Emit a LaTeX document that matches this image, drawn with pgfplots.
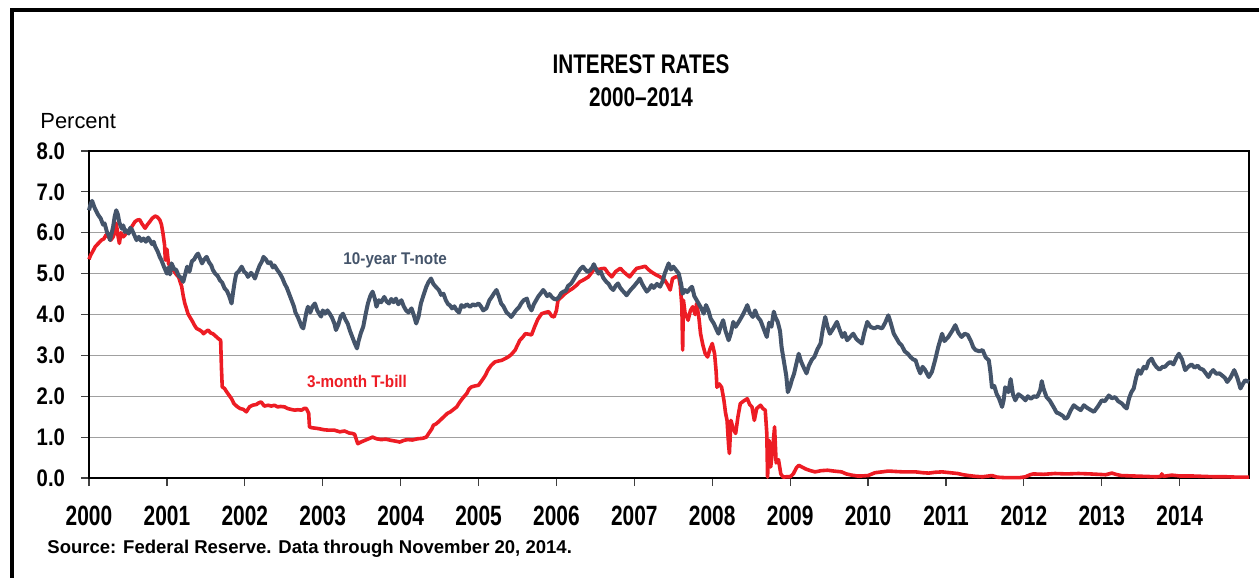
\documentclass[border=0pt]{standalone}
\usepackage{fontspec}
\setmainfont{Liberation Sans}
\newfontfamily\narrowfont[FakeStretch=0.77]{Liberation Sans}
\newfontfamily\xtickfont[FakeStretch=0.75]{Liberation Sans}
\newfontfamily\ytickfont[FakeStretch=0.85]{Liberation Sans}
\newfontfamily\labelfont[FakeStretch=0.9]{Liberation Sans}
\usepackage{pgfplots}
\pgfplotsset{compat=1.18}
\definecolor{notecol}{RGB}{68,84,106}
\definecolor{billcol}{RGB}{237,28,36}
\definecolor{gridcol}{RGB}{160,160,160}

% 10-year T-note, percent
\pgfplotstableread{
t v
2000.00 6.55
2000.02 6.70
2000.04 6.78
2000.07 6.62
2000.10 6.50
2000.12 6.43
2000.15 6.35
2000.18 6.20
2000.20 6.23
2000.23 6.02
2000.25 5.95
2000.27 5.82
2000.29 5.98
2000.31 6.15
2000.33 6.40
2000.35 6.55
2000.37 6.45
2000.39 6.25
2000.42 6.10
2000.44 6.18
2000.46 6.02
2000.48 6.06
2000.51 5.98
2000.53 6.12
2000.55 6.08
2000.58 5.95
2000.61 5.82
2000.64 5.90
2000.67 5.80
2000.70 5.86
2000.73 5.78
2000.76 5.88
2000.78 5.82
2000.81 5.72
2000.83 5.78
2000.85 5.66
2000.88 5.55
2000.91 5.40
2000.93 5.33
2000.96 5.18
2001.00 5.00
2001.02 5.15
2001.04 4.98
2001.06 5.25
2001.09 5.12
2001.12 5.09
2001.15 4.95
2001.18 4.90
2001.21 4.80
2001.23 4.95
2001.26 5.17
2001.29 5.05
2001.32 5.30
2001.35 5.35
2001.38 5.45
2001.40 5.49
2001.43 5.35
2001.45 5.25
2001.48 5.35
2001.51 5.41
2001.54 5.28
2001.57 5.20
2001.59 5.09
2001.62 5.00
2001.65 4.95
2001.68 4.84
2001.71 4.78
2001.74 4.64
2001.77 4.58
2001.80 4.45
2001.83 4.27
2001.85 4.55
2001.87 4.80
2001.89 5.00
2001.92 5.05
2001.96 5.17
2001.99 5.05
2002.02 5.00
2002.04 4.92
2002.08 5.02
2002.11 4.95
2002.13 4.88
2002.16 5.05
2002.19 5.20
2002.22 5.30
2002.24 5.41
2002.27 5.35
2002.30 5.25
2002.33 5.28
2002.36 5.15
2002.38 5.20
2002.42 5.08
2002.45 5.00
2002.48 4.90
2002.51 4.76
2002.54 4.65
2002.57 4.50
2002.60 4.35
2002.63 4.20
2002.65 4.05
2002.68 3.94
2002.71 3.80
2002.73 3.70
2002.75 3.66
2002.77 3.85
2002.79 4.05
2002.81 4.19
2002.84 4.05
2002.87 4.20
2002.90 4.27
2002.93 4.10
2002.96 4.00
2002.98 3.95
2003.00 4.10
2003.03 4.02
2003.06 4.10
2003.09 4.02
2003.12 3.92
2003.15 3.78
2003.17 3.62
2003.20 3.75
2003.23 3.95
2003.26 4.02
2003.29 3.88
2003.32 3.78
2003.35 3.60
2003.38 3.45
2003.41 3.30
2003.44 3.17
2003.46 3.35
2003.49 3.55
2003.52 3.70
2003.55 4.00
2003.58 4.27
2003.61 4.45
2003.64 4.56
2003.67 4.38
2003.69 4.19
2003.72 4.35
2003.75 4.30
2003.79 4.43
2003.82 4.32
2003.85 4.27
2003.88 4.38
2003.91 4.30
2003.94 4.39
2003.97 4.25
2004.01 4.35
2004.04 4.20
2004.07 4.10
2004.10 4.05
2004.14 4.15
2004.17 3.98
2004.20 3.78
2004.23 3.95
2004.26 4.27
2004.29 4.45
2004.33 4.68
2004.36 4.80
2004.39 4.88
2004.42 4.75
2004.45 4.68
2004.49 4.60
2004.52 4.48
2004.55 4.51
2004.58 4.35
2004.61 4.25
2004.63 4.23
2004.66 4.15
2004.69 4.20
2004.72 4.10
2004.75 4.05
2004.78 4.23
2004.81 4.18
2004.85 4.25
2004.89 4.19
2004.93 4.25
2004.96 4.22
2005.00 4.27
2005.03 4.20
2005.06 4.10
2005.10 4.15
2005.14 4.35
2005.17 4.43
2005.20 4.52
2005.23 4.60
2005.26 4.45
2005.29 4.27
2005.32 4.20
2005.36 4.05
2005.39 4.00
2005.42 3.94
2005.45 4.02
2005.48 4.10
2005.52 4.18
2005.55 4.28
2005.58 4.35
2005.62 4.39
2005.65 4.20
2005.68 4.10
2005.71 4.25
2005.74 4.35
2005.77 4.45
2005.80 4.52
2005.83 4.60
2005.85 4.55
2005.88 4.45
2005.91 4.50
2005.94 4.43
2005.97 4.38
2006.00 4.37
2006.03 4.42
2006.06 4.52
2006.09 4.56
2006.12 4.58
2006.15 4.70
2006.19 4.76
2006.22 4.85
2006.25 4.95
2006.28 5.04
2006.31 5.12
2006.34 5.17
2006.37 5.10
2006.40 5.04
2006.43 5.08
2006.46 5.15
2006.48 5.23
2006.51 5.10
2006.54 5.00
2006.57 5.05
2006.60 4.90
2006.64 4.80
2006.67 4.75
2006.70 4.65
2006.73 4.60
2006.76 4.70
2006.79 4.76
2006.82 4.65
2006.85 4.58
2006.88 4.52
2006.90 4.47
2006.93 4.55
2006.96 4.62
2006.99 4.68
2007.02 4.75
2007.05 4.82
2007.07 4.88
2007.10 4.75
2007.13 4.65
2007.16 4.56
2007.19 4.62
2007.22 4.72
2007.25 4.65
2007.29 4.75
2007.33 4.68
2007.36 4.80
2007.39 5.00
2007.42 5.15
2007.44 5.25
2007.47 5.10
2007.50 5.17
2007.53 5.10
2007.57 5.00
2007.60 4.75
2007.62 4.51
2007.65 4.60
2007.68 4.55
2007.71 4.62
2007.74 4.68
2007.77 4.45
2007.80 4.35
2007.83 4.25
2007.86 4.15
2007.89 4.02
2007.92 4.23
2007.95 4.10
2007.98 3.90
2008.02 3.78
2008.05 3.65
2008.08 3.53
2008.11 3.72
2008.14 3.86
2008.17 3.60
2008.21 3.37
2008.24 3.55
2008.27 3.82
2008.30 3.70
2008.34 3.82
2008.38 3.95
2008.42 4.10
2008.45 4.23
2008.48 4.05
2008.52 3.94
2008.55 4.10
2008.58 3.95
2008.62 3.85
2008.66 3.65
2008.70 3.45
2008.73 3.80
2008.76 3.70
2008.79 4.07
2008.81 3.94
2008.84 3.82
2008.87 3.60
2008.89 3.20
2008.92 2.85
2008.95 2.50
2008.97 2.10
2009.00 2.25
2009.02 2.39
2009.05 2.55
2009.08 2.80
2009.11 3.04
2009.14 2.85
2009.17 2.72
2009.21 2.56
2009.24 2.75
2009.28 2.90
2009.31 2.96
2009.35 3.15
2009.39 3.29
2009.42 3.65
2009.45 3.94
2009.48 3.70
2009.51 3.53
2009.55 3.65
2009.60 3.82
2009.64 3.60
2009.67 3.45
2009.70 3.55
2009.73 3.37
2009.77 3.45
2009.81 3.53
2009.85 3.40
2009.88 3.35
2009.92 3.29
2009.95 3.55
2009.99 3.82
2010.03 3.70
2010.08 3.66
2010.12 3.70
2010.18 3.66
2010.22 3.80
2010.26 3.98
2010.29 3.80
2010.33 3.53
2010.37 3.40
2010.40 3.30
2010.43 3.25
2010.47 3.10
2010.51 3.04
2010.55 2.95
2010.58 2.90
2010.61 2.88
2010.64 2.70
2010.67 2.56
2010.70 2.72
2010.73 2.65
2010.78 2.47
2010.82 2.60
2010.86 2.88
2010.90 3.20
2010.95 3.53
2010.98 3.35
2011.03 3.45
2011.08 3.60
2011.12 3.74
2011.16 3.55
2011.20 3.45
2011.24 3.53
2011.28 3.50
2011.32 3.35
2011.35 3.20
2011.38 3.13
2011.43 3.10
2011.47 3.13
2011.51 2.95
2011.55 2.88
2011.57 2.60
2011.59 2.22
2011.62 2.25
2011.65 2.06
2011.68 1.95
2011.72 1.74
2011.74 1.90
2011.76 2.22
2011.80 2.10
2011.83 2.42
2011.86 2.05
2011.89 1.90
2011.93 2.05
2011.98 1.98
2012.02 1.90
2012.05 2.00
2012.09 1.94
2012.13 2.00
2012.17 1.98
2012.21 2.15
2012.23 2.37
2012.25 2.20
2012.29 1.98
2012.33 1.90
2012.38 1.74
2012.42 1.60
2012.45 1.58
2012.50 1.52
2012.53 1.45
2012.56 1.48
2012.60 1.65
2012.64 1.78
2012.68 1.72
2012.73 1.66
2012.77 1.78
2012.81 1.72
2012.86 1.66
2012.90 1.62
2012.95 1.75
2013.00 1.90
2013.04 1.88
2013.09 2.02
2013.13 1.95
2013.17 1.98
2013.21 1.88
2013.26 1.82
2013.29 1.75
2013.32 1.70
2013.35 1.95
2013.38 2.10
2013.41 2.19
2013.44 2.45
2013.47 2.64
2013.50 2.55
2013.54 2.72
2013.57 2.68
2013.60 2.85
2013.64 2.92
2013.67 2.80
2013.70 2.72
2013.74 2.65
2013.78 2.72
2013.81 2.72
2013.85 2.80
2013.88 2.84
2013.92 2.78
2013.96 2.95
2013.99 3.04
2014.03 2.90
2014.07 2.64
2014.11 2.72
2014.15 2.78
2014.19 2.70
2014.23 2.75
2014.26 2.68
2014.30 2.65
2014.34 2.55
2014.37 2.47
2014.40 2.58
2014.43 2.64
2014.47 2.55
2014.51 2.56
2014.55 2.50
2014.58 2.45
2014.61 2.35
2014.65 2.45
2014.70 2.64
2014.74 2.45
2014.78 2.19
2014.81 2.30
2014.84 2.39
2014.89 2.35
}\notetable

% 3-month T-bill, percent
\pgfplotstableread{
t v
2000.00 5.35
2000.02 5.45
2000.05 5.55
2000.08 5.66
2000.11 5.72
2000.14 5.78
2000.16 5.82
2000.19 5.85
2000.22 5.95
2000.25 5.90
2000.28 5.82
2000.31 5.90
2000.33 6.00
2000.35 6.23
2000.37 5.95
2000.39 5.74
2000.41 6.00
2000.44 5.90
2000.46 5.94
2000.49 6.02
2000.52 6.06
2000.55 6.15
2000.59 6.27
2000.62 6.31
2000.65 6.32
2000.68 6.22
2000.72 6.11
2000.75 6.20
2000.78 6.27
2000.81 6.35
2000.85 6.41
2000.88 6.38
2000.91 6.31
2000.93 6.20
2000.95 5.98
2000.97 5.70
2000.98 5.33
2001.00 5.60
2001.02 5.25
2001.05 5.15
2001.08 5.09
2001.12 4.98
2001.15 4.92
2001.19 4.68
2001.21 4.45
2001.23 4.27
2001.25 4.15
2001.27 4.02
2001.30 3.92
2001.32 3.86
2001.35 3.75
2001.38 3.66
2001.42 3.62
2001.45 3.58
2001.47 3.53
2001.50 3.58
2001.53 3.62
2001.56 3.55
2001.59 3.53
2001.62 3.48
2001.66 3.41
2001.69 3.37
2001.70 2.70
2001.71 2.23
2001.74 2.19
2001.77 2.10
2001.80 2.02
2001.83 1.94
2001.86 1.82
2001.90 1.75
2001.94 1.70
2001.98 1.68
2002.02 1.62
2002.06 1.74
2002.10 1.78
2002.15 1.80
2002.18 1.84
2002.21 1.86
2002.25 1.76
2002.30 1.78
2002.34 1.76
2002.38 1.78
2002.42 1.74
2002.46 1.75
2002.51 1.74
2002.55 1.70
2002.59 1.68
2002.64 1.66
2002.68 1.67
2002.73 1.66
2002.76 1.70
2002.79 1.70
2002.82 1.58
2002.83 1.25
2002.86 1.23
2002.90 1.22
2002.94 1.21
2003.02 1.18
2003.08 1.17
2003.15 1.17
2003.22 1.13
2003.28 1.15
2003.34 1.10
2003.38 1.09
2003.41 1.07
2003.43 0.95
2003.45 0.84
2003.49 0.88
2003.54 0.92
2003.59 0.96
2003.64 1.00
2003.69 0.96
2003.75 0.94
2003.81 0.95
2003.88 0.92
2003.94 0.90
2003.99 0.88
2004.04 0.92
2004.09 0.94
2004.15 0.93
2004.22 0.96
2004.28 0.97
2004.33 1.00
2004.36 1.09
2004.40 1.20
2004.42 1.29
2004.46 1.33
2004.50 1.40
2004.55 1.49
2004.60 1.58
2004.64 1.62
2004.68 1.68
2004.72 1.74
2004.76 1.86
2004.80 1.96
2004.85 2.07
2004.88 2.18
2004.91 2.23
2004.95 2.25
2005.00 2.27
2005.03 2.35
2005.06 2.43
2005.09 2.52
2005.12 2.64
2005.16 2.75
2005.21 2.84
2005.25 2.86
2005.30 2.88
2005.34 2.92
2005.38 2.96
2005.42 3.02
2005.47 3.13
2005.50 3.25
2005.53 3.37
2005.57 3.45
2005.60 3.53
2005.64 3.52
2005.68 3.50
2005.72 3.70
2005.76 3.88
2005.81 4.02
2005.86 4.05
2005.90 4.07
2005.94 3.96
2005.97 3.94
2006.00 4.10
2006.02 4.35
2006.06 4.42
2006.11 4.51
2006.16 4.58
2006.21 4.64
2006.26 4.72
2006.30 4.80
2006.35 4.85
2006.41 4.92
2006.45 5.02
2006.49 5.13
2006.54 5.10
2006.58 5.12
2006.62 5.13
2006.66 5.02
2006.71 4.92
2006.76 5.05
2006.82 5.13
2006.86 5.05
2006.90 4.98
2006.94 4.92
2006.98 5.02
2007.03 5.13
2007.08 5.15
2007.14 5.18
2007.18 5.10
2007.22 5.04
2007.27 4.98
2007.33 4.92
2007.36 4.88
2007.39 4.84
2007.42 4.75
2007.46 4.60
2007.49 4.88
2007.53 4.92
2007.57 4.92
2007.59 4.70
2007.61 4.20
2007.62 3.13
2007.63 4.35
2007.65 4.05
2007.69 3.86
2007.72 4.10
2007.75 4.19
2007.78 4.00
2007.80 4.27
2007.83 3.90
2007.85 3.53
2007.88 3.25
2007.91 3.04
2007.94 2.96
2007.97 3.15
2008.00 3.29
2008.03 3.04
2008.05 2.60
2008.06 2.22
2008.09 2.30
2008.12 2.22
2008.15 1.90
2008.17 1.60
2008.19 1.41
2008.21 0.80
2008.22 0.60
2008.24 1.41
2008.27 1.20
2008.30 1.09
2008.33 1.50
2008.36 1.82
2008.40 1.88
2008.45 1.94
2008.48 1.80
2008.51 1.74
2008.54 1.41
2008.57 1.70
2008.62 1.78
2008.65 1.70
2008.68 1.66
2008.70 1.10
2008.71 0.02
2008.73 0.92
2008.75 0.27
2008.77 0.60
2008.80 1.25
2008.82 0.37
2008.85 0.45
2008.88 0.10
2008.91 0.02
2008.95 0.03
2009.00 0.03
2009.04 0.10
2009.08 0.25
2009.11 0.31
2009.15 0.27
2009.20 0.22
2009.26 0.18
2009.32 0.15
2009.40 0.18
2009.48 0.19
2009.56 0.17
2009.66 0.15
2009.72 0.10
2009.79 0.07
2009.86 0.05
2009.92 0.05
2010.00 0.06
2010.09 0.13
2010.18 0.15
2010.26 0.17
2010.35 0.16
2010.45 0.15
2010.55 0.15
2010.61 0.15
2010.70 0.13
2010.78 0.12
2010.86 0.14
2010.95 0.15
2011.05 0.13
2011.15 0.11
2011.22 0.08
2011.29 0.06
2011.38 0.04
2011.47 0.03
2011.55 0.05
2011.59 0.06
2011.66 0.02
2011.75 0.01
2011.85 0.01
2011.95 0.01
2012.02 0.03
2012.08 0.08
2012.12 0.10
2012.25 0.09
2012.40 0.11
2012.55 0.10
2012.70 0.11
2012.85 0.10
2012.95 0.09
2013.05 0.08
2013.13 0.12
2013.18 0.09
2013.25 0.06
2013.40 0.05
2013.55 0.04
2013.70 0.03
2013.76 0.04
2013.77 0.10
2013.79 0.04
2013.90 0.07
2014.00 0.05
2014.15 0.05
2014.30 0.04
2014.45 0.03
2014.60 0.03
2014.75 0.02
2014.89 0.02
}\billtable

\begin{document}
\begin{tikzpicture}[x=1bp,y=1bp]
\path[use as bounding box] (0,0) rectangle (629.5,288.5);
% outer frame (only left and top edges are in view)
\draw[line width=2bp] (6,-5) -- (6,283.5) -- (640,283.5);
\node[anchor=base, inner sep=0pt, font=\narrowfont\bfseries\fontsize{13.5}{15}\selectfont] at (320.5,251.8) {INTEREST RATES};
\node[anchor=base, inner sep=0pt, font=\narrowfont\bfseries\fontsize{13.5}{15}\selectfont] at (320.5,235.3) {2000–2014};
\node[anchor=base west, inner sep=0pt, font=\fontsize{11}{13}\selectfont] at (20,224.5) {Percent};
\node[anchor=west, inner sep=0pt, font=\bfseries\fontsize{9.3}{11}\selectfont] at (23.5,14) {Source: Federal Reserve. Data through November 20, 2014.};

\begin{axis}[
  at={(44.5bp,49.5bp)}, anchor=south west,
  width=580bp, height=163.5bp, scale only axis,
  xmin=2000, xmax=2014.89, ymin=0, ymax=8,
  xtick={2000,2001,...,2014}, ytick={0,1,...,8},
  /pgf/number format/assume math mode=true,
  xticklabel style={/pgf/number format/1000 sep={}, font=\xtickfont\bfseries\fontsize{14}{16}\selectfont, yshift=-6.5bp},
  yticklabel={\pgfmathprintnumber[fixed,fixed zerofill,precision=1]{\tick}},
  yticklabel style={font=\ytickfont\bfseries\fontsize{12}{14}\selectfont, xshift=-4.5bp},
  tick align=outside, major tick length=4bp,
  xtick pos=bottom, ytick pos=left,
  tick style={line width=0.6bp, black!75},
  axis line style={line width=0.8bp},
  ymajorgrids, grid style={gridcol, line width=0.6bp},
  clip=false,
]
\addplot[billcol, line width=1.8bp, line join=round, mark=none] table[x=t,y=v] {\billtable};
\addplot[notecol, line width=2bp, line join=round, mark=none] table[x=t,y=v] {\notetable};
\node[font=\labelfont\bfseries\fontsize{8.5}{10}\selectfont, text=notecol, inner sep=0pt] at (axis cs:2003.93,5.33) {10-year T-note};
\node[font=\labelfont\bfseries\fontsize{8.5}{10}\selectfont, text=billcol, inner sep=0pt] at (axis cs:2003.44,2.35) {3-month T-bill};
\end{axis}
\end{tikzpicture}
\end{document}
